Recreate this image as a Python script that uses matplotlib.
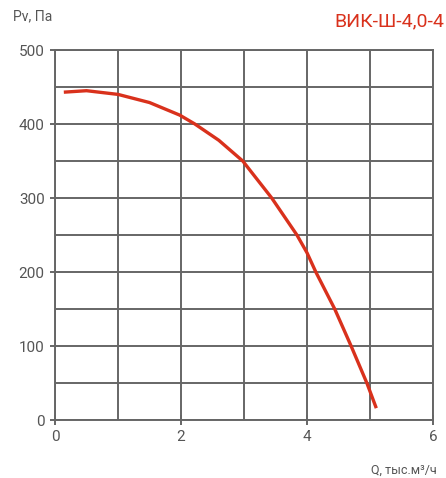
import matplotlib.pyplot as plt

# flow, thousand m3/h
flow = [0.14, 0.5, 1.0, 1.5, 1.98, 2.22, 2.6, 2.98, 3.44, 3.84, 4.0, 4.14, 4.44, 4.70, 4.95, 5.10]
# static pressure, Pa
pressure = [443, 445, 440, 429, 412, 400, 378, 350, 300, 250, 226, 200, 150, 100, 50, 16]

x_ticks = [0, 2, 4, 6]
y_ticks = [0, 100, 200, 300, 400, 500]
title = "ВИК-Ш-4,0-4"

red = "#d9311c"
grid = "#666666"
text_col = "#555555"

plt.rcParams['font.family'] = ['Roboto', 'DejaVu Sans']

fig = plt.figure(figsize=(4.46, 4.78), dpi=100)
ax = fig.add_axes([55 / 446, 58 / 478, 378 / 446, 370 / 478])

ax.set_xlim(0, 6)
ax.set_ylim(0, 500)
for s in ax.spines.values():
    s.set_color(grid)
    s.set_linewidth(1.4)

ax.set_xticks(x_ticks)
ax.set_xticks([1, 3, 5], minor=True)
ax.set_yticks(y_ticks)
ax.set_yticks([50, 150, 250, 350, 450], minor=True)
ax.grid(True, which='both', color=grid, linewidth=1.4)
ax.set_axisbelow(True)
ax.tick_params(which='major', length=7, width=1.4, color=grid, direction='inout',
               labelsize=11, labelcolor=text_col, pad=4)
ax.tick_params(which='minor', length=0)

ax.plot(flow, pressure, color=red, linewidth=2.4, solid_capstyle='butt', zorder=3)

fig.text(0.995, 0.955, title, color=red, fontsize=14, ha='right', va='center')
fig.text(0.03, 0.965, "Pv, Па", color=text_col, fontsize=10, ha='left', va='center')
fig.text(0.98, 0.017, "Q, тыс.м³/ч", color=text_col, fontsize=9, ha='right', va='center')

fig.savefig("out.png", dpi=100)
